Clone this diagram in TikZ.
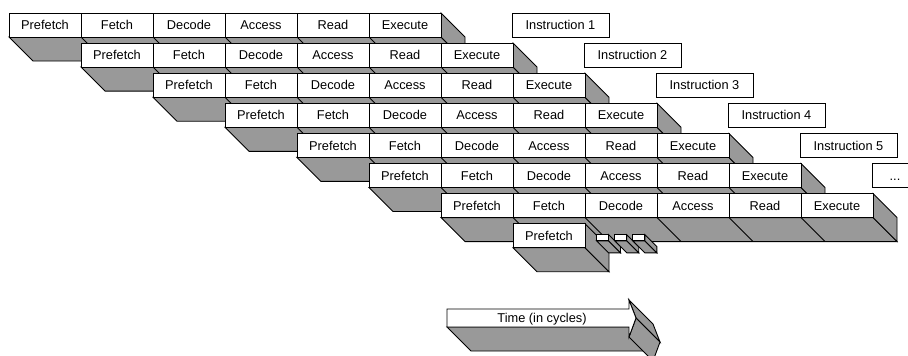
\documentclass[tikz,border=0pt]{standalone}
\usepackage{fontspec}
\setmainfont{Liberation Sans}
\definecolor{sidegray}{RGB}{153,153,153}
\begin{document}
\begin{tikzpicture}[x=1pt,y=-1pt,
  txt/.style={font=\fontsize{12.8}{14}\selectfont, text height=9.3pt, text depth=0pt},
  cell/.style={txt, draw=black, fill=white, line width=0.9pt, minimum width=72pt, minimum height=24pt, inner sep=0pt, outer sep=0pt, anchor=north west},
  instr/.style={cell, minimum width=97pt},
  dots/.style={cell, minimum width=46pt},
  face/.style={fill=sidegray, draw=black, line width=0.9pt, line join=miter},
  crease/.style={draw=black, line width=0.9pt},
  front/.style={fill=white, draw=black, line width=0.9pt, line join=miter}]
\useasboundingbox (0,0) rectangle (908,356);
\clip (0,0) rectangle (908,356);
% pipeline rows
\foreach \r in {0,...,6} {
  \pgfmathsetmacro\xa{9+72*\r}
  \pgfmathsetmacro\xb{\xa+432}
  \pgfmathsetmacro\yt{13+30.1*\r}
  \pgfmathsetmacro\yb{\yt+24}
  \path[face] (\xa,\yb) -- (\xb,\yb) -- (\xb+24,\yb+24) -- (\xa+24,\yb+24) -- cycle;
  \path[face] (\xb,\yt) -- (\xb+24,\yt+24) -- (\xb+24,\yb+24) -- (\xb,\yb) -- cycle;
  \foreach \k in {1,...,5} {
    \draw[crease] (\xa+72*\k,\yb) -- (\xa+72*\k+24,\yb+24);
  }
  \foreach \lab [count=\k from 0] in {Prefetch,Fetch,Decode,Access,Read,Execute} {
    \node[cell] (r\r-\k) at (\xa+72*\k,\yt) {\lab};
  }
}
% last (partial) row
\path[face] (513,247.7) -- (585,247.7) -- (609,271.7) -- (537,271.7) -- cycle;
\path[face] (585,223.7) -- (609,247.7) -- (609,271.7) -- (585,247.7) -- cycle;
\node[cell] (r7-0) at (513,223.7) {Prefetch};
% small continuation blocks
\foreach \j in {0,1,2} {
  \pgfmathsetmacro\sx{596.5+18.2*\j}
  \path[face] (\sx,240.8) -- (\sx+12,240.8) -- (\sx+24,252.8) -- (\sx+12,252.8) -- cycle;
  \path[face] (\sx+12,234.6) -- (\sx+24,246.6) -- (\sx+24,252.8) -- (\sx+12,240.8) -- cycle;
  \node[front, minimum width=12pt, minimum height=6.2pt, inner sep=0pt, outer sep=0pt, anchor=north west] (s\j) at (\sx,234.6) {};
}
% instruction labels
\foreach \k in {0,...,4} {
  \pgfmathtruncatemacro\n{\k+1}
  \node[instr] (i\n) at (512+72*\k,13+30.1*\k) {Instruction \n};
}
\node[dots] (more) at (872,163.5) {...};
% time arrow
\path[face] (447,327) -- (629,327) -- (653,351) -- (471,351) -- cycle;
\path[face] (629,300) -- (636,318) -- (660,342) -- (653,324) -- cycle;
\path[face] (636,318) -- (629,337) -- (653,361) -- (660,342) -- cycle;
\path[front] (447,309) -- (629,309) -- (629,300) -- (636,318) -- (629,337) -- (629,327) -- (447,327) -- cycle;
\node[txt] (time) at (542,318) {Time (in cycles)};
\end{tikzpicture}
\end{document}
